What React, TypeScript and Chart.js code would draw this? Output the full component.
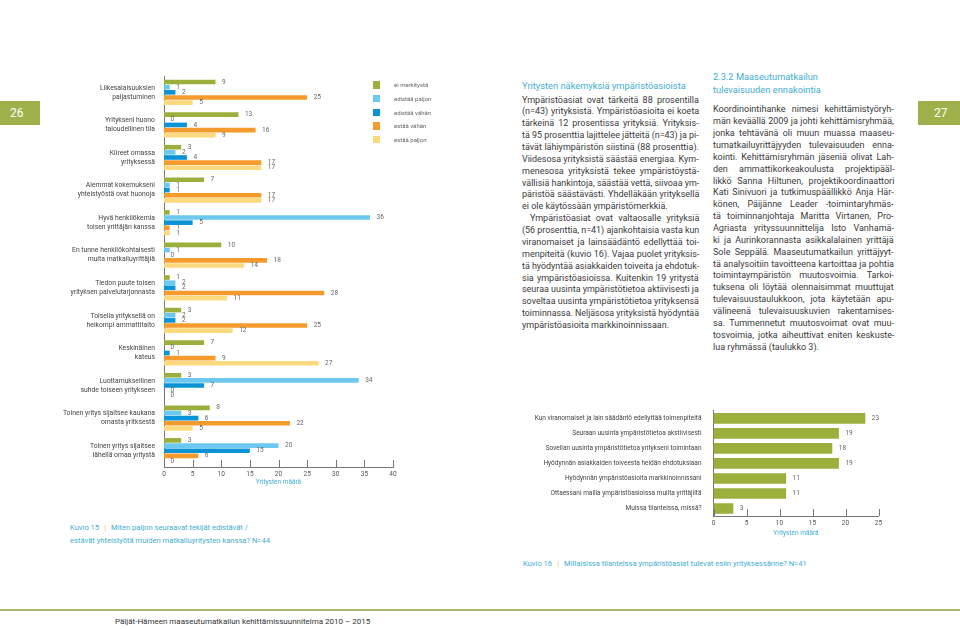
import React, { useEffect, useLayoutEffect, useRef } from 'react';
import { Chart, registerables } from 'chart.js';

Chart.register(...registerables);

const FONT = 'Roboto, "Liberation Sans", "DejaVu Sans", sans-serif';

// ---------- Kuvio 15 data ----------
const factorLabels: string[][] = [
  ['Liikesalaisuuksien', 'paljastuminen'],
  ['Yritykseni huono', 'taloudellinen tila'],
  ['Kiireet omassa', 'yrityksessä'],
  ['Aiemmat kokemukseni', 'yhteistyöstä ovat huonoja'],
  ['Hyvä henkilökemia', 'toisen yrittäjän kanssa'],
  ['En tunne henkilökohtaisesti', 'muita matkailuyrittäjiä'],
  ['Tiedon puute toisen', 'yrityksen palvelutarjonnasta'],
  ['Toisella yrityksellä on', 'heikompi ammattitaito'],
  ['Keskinäinen', 'kateus'],
  ['Luottamuksellinen', 'suhde toiseen yritykseen'],
  ['Toinen yritys sijaitsee kaukana', 'omasta yritksestä'],
  ['Toinen yritys sijaitsee', 'lähellä omaa yritystä'],
];
const seriesNames = ['ei merkitystä', 'edistää paljon', 'edistää vähän', 'estää vähän', 'estää paljon'];
const eiMerkitysta = [9, 13, 3, 7, 1, 10, 1, 3, 7, 3, 8, 3];
const edistaaPaljon = [1, 0, 2, 1, 36, 1, 2, 2, 0, 34, 3, 20];
const edistaaVahan = [2, 4, 4, 1, 5, 0, 2, 2, 1, 7, 6, 15];
const estaaVahan = [25, 16, 17, 17, 1, 18, 28, 25, 9, 0, 22, 6];
const estaaPaljon = [5, 9, 17, 17, 1, 14, 11, 12, 27, 0, 5, 0];
const seriesColors = ['#9bb03c', '#6dc8ef', '#0a94d6', '#f59b2e', '#fdd97e'];
const axisTitle = 'Yritysten määrä';

// ---------- Kuvio 16 data ----------
const situationLabels = [
  'Kun viranomaiset ja lain säädäntö edellyttää toimenpiteitä',
  'Seuraan uusinta ympäristötietoa akstiivisesti',
  'Sovellan uusinta ympäristötietoa yritykseni toimintaan',
  'Hyödynnän asiakkaiden toiveesta heidän ehdotuksiaan',
  'Hyödynnän ympäristöasioita markkinoinnissani',
  'Ottaessani mallia ympäristöasioissa muilta yrittäjiltä',
  'Muissa tilanteissa, missä?',
];
const situationCounts = [23, 19, 18, 19, 11, 11, 3];

// ---------- page text ----------
const col1Heading = 'Yritysten näkemyksiä ympäristöasioista';
const col1Lines: [string, boolean, number][] = [
  ['Ympäristöasiat ovat tärkeitä 88 prosentilla', true, 0],
  ['(n=43) yrityksistä. Ympäristöasioita ei koeta', true, 0],
  ['tärkeinä 12 prosentissa yrityksiä. Yrityksis-', true, 0],
  ['tä 95 prosenttia lajittelee jätteitä (n=43) ja pi-', true, 0],
  ['tävät lähiympäristön siistinä (88 prosenttia).', true, 0],
  ['Viidesosa yrityksistä säästää energiaa. Kym-', true, 0],
  ['menesosa yrityksistä tekee ympäristöystä-', true, 0],
  ['vällisiä hankintoja, säästää vettä, siivoaa ym-', true, 0],
  ['päristöä säästävästi. Yhdelläkään yrityksellä', true, 0],
  ['ei ole käytössään ympäristömerkkiä.', false, 0],
  ['Ympäristöasiat ovat valtaosalle yrityksiä', true, 8],
  ['(56 prosenttia, n=41) ajankohtaisia vasta kun', true, 0],
  ['viranomaiset ja lainsäädäntö edellyttää toi-', true, 0],
  ['menpiteitä (kuvio 16). Vajaa puolet yrityksis-', true, 0],
  ['tä hyödyntää asiakkaiden toiveita ja ehdotuk-', true, 0],
  ['sia ympäristöasioissa. Kuitenkin 19 yritystä', true, 0],
  ['seuraa uusinta ympäristötietoa aktiivisesti ja', true, 0],
  ['soveltaa uusinta ympäristötietoa yrityksensä', true, 0],
  ['toiminnassa. Neljäsosa yrityksistä hyödyntää', true, 0],
  ['ympäristöasioita markkinoinnissaan.', false, 0],
];
const col2Heading = ['2.3.2 Maaseutumatkailun', 'tulevaisuuden ennakointia'];
const col2Lines: [string, boolean, number][] = [
  ['Koordinointihanke nimesi kehittämistyöryh-', true, 0],
  ['män keväällä 2009 ja johti kehittämisryhmää,', true, 0],
  ['jonka tehtävänä oli muun muassa maaseu-', true, 0],
  ['tumatkailuyrittäjyyden tulevaisuuden enna-', true, 0],
  ['kointi. Kehittämisryhmän jäseniä olivat Lah-', true, 0],
  ['den ammattikorkeakoulusta projektipääl-', true, 0],
  ['likkö Sanna Hiltunen, projektikoordinaattori', true, 0],
  ['Kati Sinivuori ja tutkimuspäällikkö Anja Här-', true, 0],
  ['könen, Päijänne Leader -toimintaryhmäs-', true, 0],
  ['tä toiminnanjohtaja Maritta Virtanen, Pro-', true, 0],
  ['Agriasta yrityssuunnittelija Isto Vanhamä-', true, 0],
  ['ki ja Aurinkorannasta asikkalalainen yrittäjä', true, 0],
  ['Sole Seppälä. Maaseutumatkailun yrittäjyyt-', true, 0],
  ['tä analysoitiin tavoitteena kartoittaa ja pohtia', true, 0],
  ['toimintaympäristön muutosvoimia. Tarkoi-', true, 0],
  ['tuksena oli löytää olennaisimmat muuttujat', true, 0],
  ['tulevaisuustaulukkoon, jota käytetään apu-', true, 0],
  ['välineenä tulevaisuuskuvien rakentamises-', true, 0],
  ['sa. Tummennetut muutosvoimat ovat muu-', true, 0],
  ['tosvoimia, jotka aiheuttivat eniten keskuste-', true, 0],
  ['lua ryhmässä (taulukko 3).', false, 0],
];
const caption15 = ['Kuvio 15', 'Miten paljon seuraavat tekijät edistävät /', 'estävät yhteistyötä muiden matkailuyritysten kanssa? N=44'];
const caption16 = ['Kuvio 16', 'Millaisissa tilanteissa ympäristöasiat tulevat esiin yrityksessänne? N=41'];
const footerText = 'Päijät-Hämeen maaseutumatkailun kehittämissuunnitelma 2010 – 2015';

const BLUE_TEXT = '#45aed3';
const BODY = '#3a3a3a';
const PAGE_GREEN = '#9db04a';

const valueLabels = {
  id: 'valueLabels',
  afterDatasetsDraw(chart: any, _args: any, opts: any) {
    const ctx = chart.ctx;
    ctx.save();
    ctx.font = `${opts.size}px ${FONT}`;
    ctx.fillStyle = opts.color;
    ctx.textBaseline = 'middle';
    ctx.textAlign = 'left';
    chart.data.datasets.forEach((ds: any, di: number) => {
      const meta = chart.getDatasetMeta(di);
      meta.data.forEach((el: any, i: number) => {
        ctx.fillText(String(ds.data[i]), el.x + opts.offset, el.y);
      });
    });
    ctx.restore();
  },
};

const upTicks = {
  id: 'upTicks',
  afterDraw(chart: any) {
    const s = chart.scales.x;
    const ctx = chart.ctx;
    const y = Math.round(chart.chartArea.bottom);
    ctx.save();
    ctx.strokeStyle = '#777';
    ctx.lineWidth = 1;
    s.ticks.forEach((_t: any, i: number) => {
      const x = Math.round(s.getPixelForTick(i)) + 0.5;
      ctx.beginPath();
      ctx.moveTo(x, y);
      ctx.lineTo(x, y - 7);
      ctx.stroke();
    });
    ctx.restore();
  },
};

const tickFont = { family: FONT, size: 6.5 };

function cfg1(): any {
  const data = [eiMerkitysta, edistaaPaljon, edistaaVahan, estaaVahan, estaaPaljon];
  return {
    type: 'bar',
    data: {
      labels: factorLabels,
      datasets: seriesNames.map((n, i) => ({
        label: n,
        data: data[i],
        backgroundColor: seriesColors[i],
        categoryPercentage: 0.79,
        barPercentage: 0.9,
      })),
    },
    options: {
      indexAxis: 'y',
      animation: false,
      responsive: false,
      maintainAspectRatio: false,
      layout: { padding: { left: 0, right: 7, top: 6.5, bottom: 0 } },
      plugins: {
        legend: { display: false },
        tooltip: { enabled: false },
        valueLabels: { size: 6.5, color: '#666', offset: 6.5 },
      },
      scales: {
        x: {
          min: 0,
          max: 40,
          ticks: { stepSize: 5, font: tickFont, color: '#555', padding: 3 },
          grid: { display: false, drawTicks: false },
          border: { display: true, color: '#777', width: 1 },
          title: { display: true, text: axisTitle, color: BLUE_TEXT, font: tickFont, padding: 0 },
          afterFit: (s: any) => { s.height = 19; },
        },
        y: {
          ticks: { font: { ...tickFont, size: 6.8, lineHeight: 1.33 }, color: '#444', padding: 9, autoSkip: false },
          grid: { display: false, drawTicks: false },
          border: { display: true, color: '#777', width: 1 },
          afterFit: (s: any) => { s.width = 164; },
        },
      },
    },
    plugins: [valueLabels, upTicks],
  };
}

function cfg2(): any {
  return {
    type: 'bar',
    data: {
      labels: situationLabels,
      datasets: [{
        label: axisTitle,
        data: situationCounts,
        backgroundColor: seriesColors[0],
        categoryPercentage: 0.71,
        barPercentage: 1,
      }],
    },
    options: {
      indexAxis: 'y',
      animation: false,
      responsive: false,
      maintainAspectRatio: false,
      layout: { padding: { left: 0, right: 21.5, top: 7, bottom: 0 } },
      plugins: {
        legend: { display: false },
        tooltip: { enabled: false },
        valueLabels: { size: 6.5, color: '#666', offset: 6.5 },
      },
      scales: {
        x: {
          min: 0,
          max: 25,
          ticks: { stepSize: 5, font: tickFont, color: '#555', padding: 3 },
          grid: { display: false, drawTicks: false },
          border: { display: true, color: '#777', width: 1 },
          title: { display: true, text: axisTitle, color: BLUE_TEXT, font: tickFont, padding: 0 },
          afterFit: (s: any) => { s.height = 21; },
        },
        y: {
          ticks: { font: tickFont, color: '#444', padding: 12, autoSkip: false },
          grid: { display: false, drawTicks: false },
          border: { display: true, color: '#777', width: 1 },
          afterFit: (s: any) => { s.width = 213.5; },
        },
      },
    },
    plugins: [valueLabels, upTicks],
  };
}

function TextLine(props: { text: string; x: number; cy: number; w: number; justify: boolean; indent?: number; size: number; color: string }) {
  const { text, x, cy, w, justify, indent = 0, size, color } = props;
  const ref = useRef<HTMLSpanElement>(null);
  useLayoutEffect(() => {
    const fit = () => {
      const el = ref.current;
      if (!el) return;
      el.style.wordSpacing = '0px';
      el.style.transform = 'none';
      const avail = w - indent;
      const nat = el.offsetWidth;
      const spaces = (text.match(/ /g) || []).length;
      if (nat > avail) {
        el.style.transform = `scaleX(${avail / nat})`;
      } else if (justify && spaces > 0) {
        el.style.wordSpacing = `${(avail - nat) / spaces}px`;
      }
    };
    fit();
    const d: any = document;
    if (d.fonts && d.fonts.ready) d.fonts.ready.then(fit);
  }, [text, w, justify, indent]);
  const lh = 12;
  return (
    <span
      ref={ref}
      style={{
        position: 'absolute',
        left: x + indent,
        top: cy - lh / 2,
        height: lh,
        lineHeight: `${lh}px`,
        whiteSpace: 'pre',
        fontSize: size,
        fontFamily: FONT,
        color,
        transformOrigin: 'left center',
      }}
    >
      {text}
    </span>
  );
}

export default function App() {
  const c1 = useRef<HTMLCanvasElement>(null);
  const c2 = useRef<HTMLCanvasElement>(null);

  useEffect(() => {
    const ch1 = new Chart(c1.current as HTMLCanvasElement, cfg1());
    const ch2 = new Chart(c2.current as HTMLCanvasElement, cfg2());
    return () => {
      ch1.destroy();
      ch2.destroy();
    };
  }, []);

  const abs = (s: any) => ({ position: 'absolute' as const, fontFamily: FONT, whiteSpace: 'pre' as const, ...s });

  return (
    <div style={{ position: 'absolute', left: 0, top: 0, width: 960, height: 629, background: '#fff', overflow: 'hidden', fontFamily: FONT }}>
      {/* page numbers */}
      <div style={abs({ left: 0, top: 101, width: 40, height: 24, background: PAGE_GREEN })} />
      <div style={abs({ left: 10, top: 104, fontSize: 12, lineHeight: '18px', color: '#fff' })}>26</div>
      <div style={abs({ left: 918, top: 101, width: 42, height: 24, background: PAGE_GREEN })} />
      <div style={abs({ left: 934, top: 104, fontSize: 12, lineHeight: '18px', color: '#fff' })}>27</div>

      {/* Kuvio 15 chart */}
      <canvas ref={c1} width={400} height={428} style={{ position: 'absolute', left: 0, top: 58, width: 400, height: 428, display: 'block' }} />
      {/* legend */}
      {seriesNames.map((n, i) => (
        <React.Fragment key={n}>
          <div style={abs({ left: 373, top: 81.3 + i * 13.7, width: 7.3, height: 7.3, background: seriesColors[i] })} />
          <div style={abs({ left: 394, top: 81.3 + i * 13.7 - 1, fontSize: 6, lineHeight: '9px', color: '#666' })}>{n}</div>
        </React.Fragment>
      ))}

      {/* Kuvio 16 chart */}
      <canvas ref={c2} width={400} height={142} style={{ position: 'absolute', left: 500, top: 395, width: 400, height: 142, display: 'block' }} />

      {/* text column 1 */}
      <div style={abs({ left: 522, top: 80, fontSize: 9.3, lineHeight: '12px', color: BLUE_TEXT })}>{col1Heading}</div>
      {col1Lines.map(([t, j, ind], i) => (
        <TextLine key={'a' + i} text={t} x={522} cy={99.5 + i * 11.87} w={177} justify={j} indent={ind} size={9} color={BODY} />
      ))}

      {/* text column 2 */}
      {col2Heading.map((t, i) => (
        <div key={'h' + i} style={abs({ left: 713, top: 70.7 + i * 13.5, fontSize: 9.3, lineHeight: '12px', color: BLUE_TEXT })}>{t}</div>
      ))}
      {col2Lines.map(([t, j, ind], i) => (
        <TextLine key={'b' + i} text={t} x={713} cy={109.3 + i * 11.87} w={181} justify={j} indent={ind} size={9} color={BODY} />
      ))}

      {/* captions */}
      <div style={abs({ left: 70, top: 522, fontSize: 7.6, lineHeight: '12px', color: BLUE_TEXT })}>
        {caption15[0]}<span style={{ color: '#f3c14d', margin: '0 5px' }}>|</span>{caption15[1]}
      </div>
      <div style={abs({ left: 70, top: 535, fontSize: 7.6, lineHeight: '12px', color: BLUE_TEXT })}>{caption15[2]}</div>
      <div style={abs({ left: 523, top: 558, fontSize: 7.6, lineHeight: '12px', color: BLUE_TEXT })}>
        {caption16[0]}<span style={{ color: '#f3c14d', margin: '0 5px' }}>|</span>{caption16[1]}
      </div>

      {/* footer */}
      <div style={abs({ left: 0, top: 609, width: 960, height: 2, background: '#a6b866' })} />
      <div style={abs({ left: 115, top: 616, width: 250, textAlign: 'center', fontSize: 8, lineHeight: '12px', color: '#333' })}>{footerText}</div>
    </div>
  );
}
